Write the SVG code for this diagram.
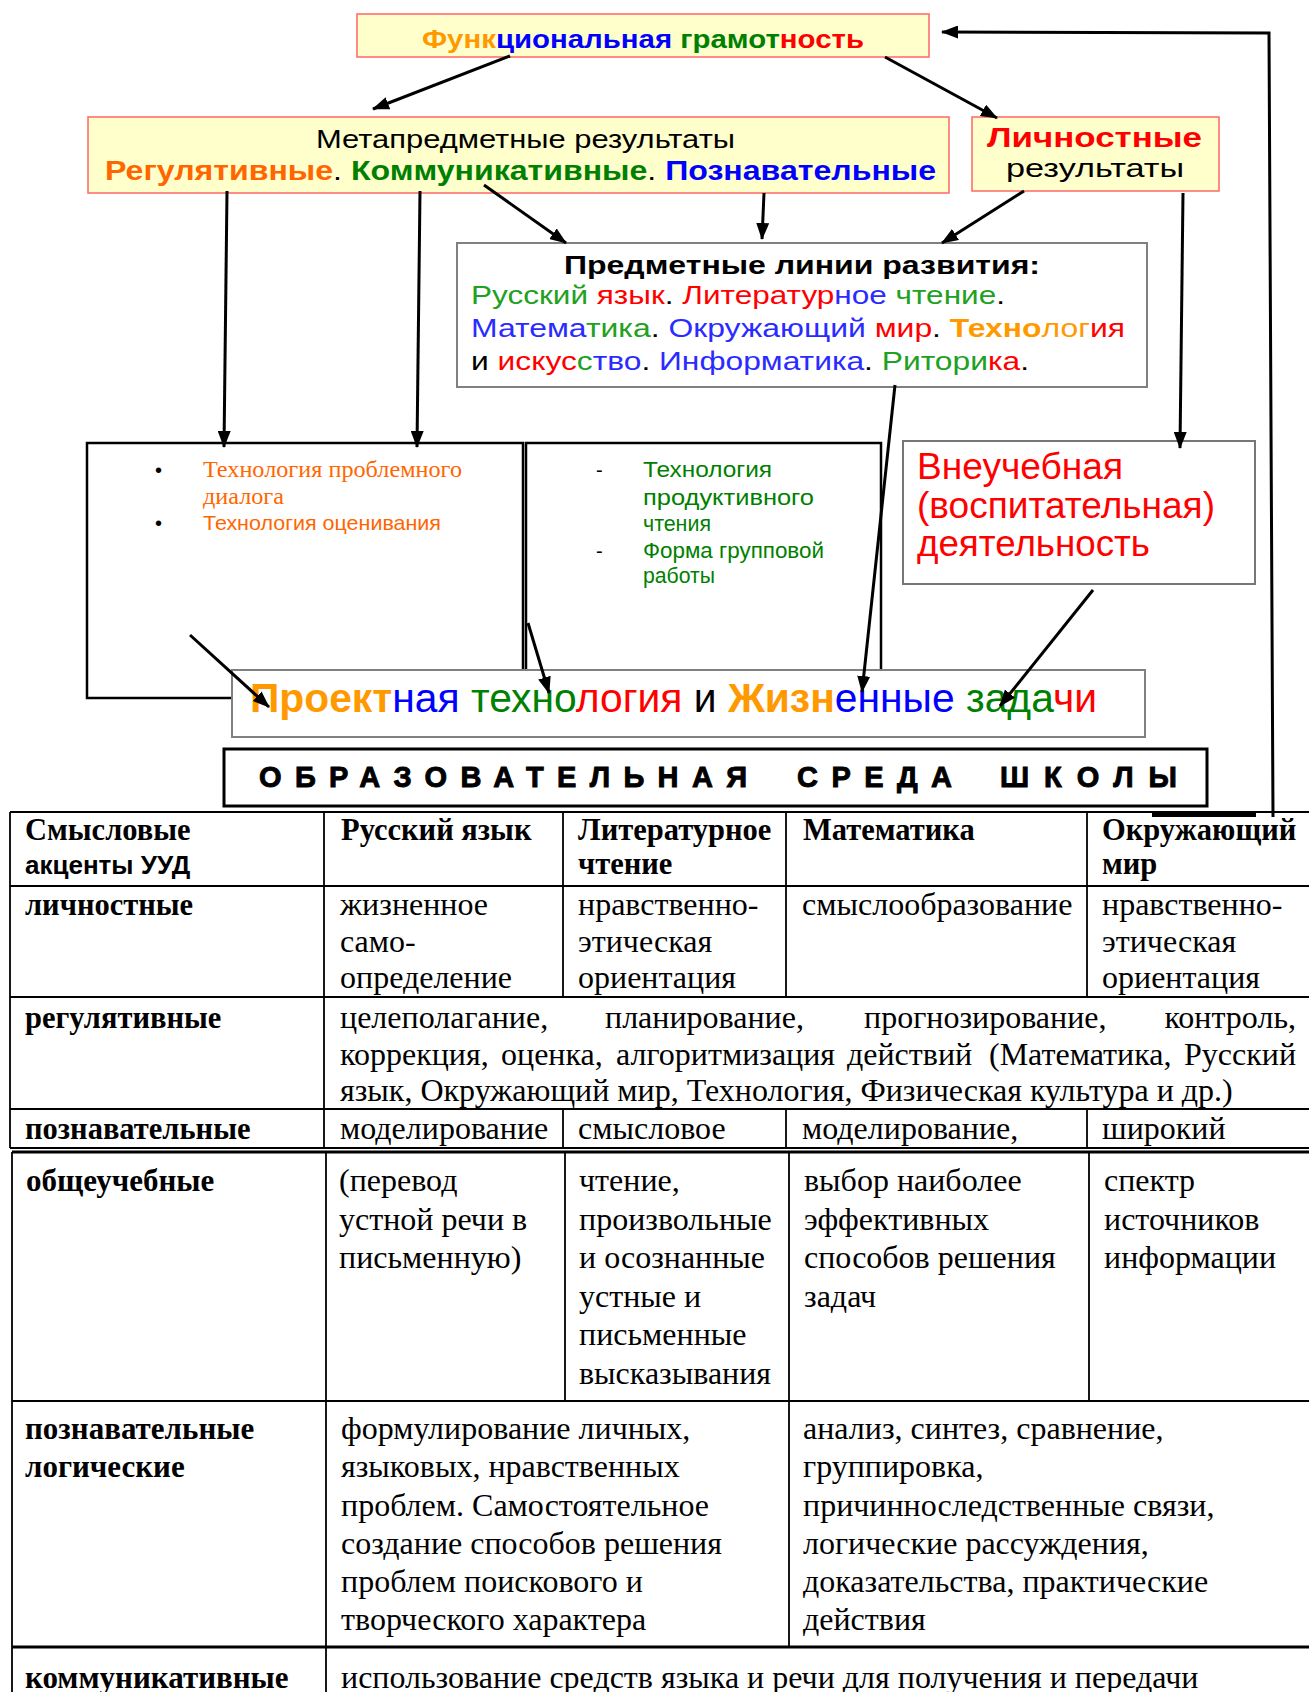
<svg xmlns="http://www.w3.org/2000/svg" width="1309" height="1692" viewBox="0 0 1309 1692">
<style>
.sans{font-family:"Liberation Sans",Arial,sans-serif}
.serif{font-family:"Liberation Serif","Times New Roman",serif}
.b{font-weight:bold}
.yb{fill:#ffffcc;stroke:#ff6f6f;stroke-width:1.6}
.gb{fill:#ffffff;stroke:#808080;stroke-width:2}
.kb{fill:#ffffff;stroke:#000;stroke-width:2.5}
.cn{stroke:#000;stroke-width:3;fill:none}
.tl{stroke:#000;stroke-width:1.8;fill:none}
.tk{stroke:#000;stroke-width:3;fill:none}
.t1{font-family:"Liberation Serif","Times New Roman",serif;font-size:32px;fill:#000}
.t1.b{font-size:30.5px}
.t2{font-family:"Liberation Serif","Times New Roman",serif;font-size:32px;fill:#000}
.t2.b{font-size:31px}
.or{fill:#ff9900}.bl{fill:#0000ff}.gr{fill:#008000}.rd{fill:#ff0000}.k{fill:#000}
.lg{fill:#22a022}.lb{fill:#2b2bff}.oo{fill:#ff6600}
</style>
<defs>
<marker id="ah" markerWidth="17" markerHeight="13" refX="16" refY="6.5" orient="auto" markerUnits="userSpaceOnUse">
<path d="M0,0 L17,6.5 L0,13 z" fill="#000"/>
</marker>
</defs>

<g id="node-func">
<rect class="yb" x="357" y="14" width="572" height="43"/>
<text class="sans b" x="422" y="48" font-size="26" textLength="442" lengthAdjust="spacingAndGlyphs"><tspan class="or">Функ</tspan><tspan class="bl">циональная</tspan> <tspan class="gr">грамот</tspan><tspan class="rd">ность</tspan></text>
</g>

<g id="node-meta">
<rect class="yb" x="88" y="117" width="861" height="76"/>
<text class="sans" x="316" y="148" font-size="25" fill="#000" textLength="419" lengthAdjust="spacingAndGlyphs">Метапредметные результаты</text>
<text class="sans b" x="105" y="180" font-size="27" textLength="831" lengthAdjust="spacingAndGlyphs"><tspan class="oo">Регулятивные</tspan><tspan class="k" font-weight="normal">. </tspan><tspan class="gr">Коммуникативные</tspan><tspan class="k" font-weight="normal">. </tspan><tspan class="bl">Познавательные</tspan></text>
</g>

<g id="node-lich">
<rect class="yb" x="972" y="117" width="247" height="74"/>
<text class="sans b rd" x="987" y="147" font-size="27" textLength="215" lengthAdjust="spacingAndGlyphs">Личностные</text>
<text class="sans" x="1006" y="177" font-size="25" fill="#000" textLength="178" lengthAdjust="spacingAndGlyphs">результаты</text>
</g>

<g id="node-predmet">
<rect class="gb" x="457" y="243" width="690" height="144"/>
<text class="sans b" x="564" y="274" font-size="25" fill="#000" textLength="476" lengthAdjust="spacingAndGlyphs">Предметные линии развития:</text>
<text class="sans" x="471" y="304" font-size="25" textLength="534" lengthAdjust="spacingAndGlyphs"><tspan class="lg">Русский</tspan> <tspan class="rd">язык</tspan><tspan class="k">. </tspan><tspan class="rd">Литератур</tspan><tspan class="lb">ное</tspan> <tspan class="lg">чтение</tspan><tspan class="k">.</tspan></text>
<text class="sans" x="471" y="337" font-size="25" textLength="654" lengthAdjust="spacingAndGlyphs"><tspan class="lb">Матема</tspan><tspan class="lg">тика</tspan><tspan class="k">. </tspan><tspan class="lb">Окружающий</tspan> <tspan class="rd">мир</tspan><tspan class="k">. </tspan><tspan class="or" font-weight="bold">Техно</tspan><tspan class="or">лог</tspan><tspan class="rd">ия</tspan></text>
<text class="sans" x="471" y="370" font-size="25" textLength="558" lengthAdjust="spacingAndGlyphs"><tspan class="k">и </tspan><tspan class="rd">искус</tspan><tspan class="lg">с</tspan><tspan class="lb">тво</tspan><tspan class="k">. </tspan><tspan class="lb">Информатика</tspan><tspan class="k">. </tspan><tspan class="lg">Ритори</tspan><tspan class="rd">ка</tspan><tspan class="k">.</tspan></text>
</g>

<g id="node-left">
<rect class="kb" x="87" y="443" width="436" height="255"/>
<text class="sans" x="155" y="477" font-size="20" fill="#000">•</text>
<text class="serif oo" x="203" y="477" font-size="23" textLength="259" lengthAdjust="spacingAndGlyphs">Технология проблемного</text>
<text class="serif oo" x="203" y="504" font-size="23" textLength="81" lengthAdjust="spacingAndGlyphs">диалога</text>
<text class="sans" x="155" y="530" font-size="20" fill="#000">•</text>
<text class="sans oo" x="203" y="530" font-size="21" textLength="238" lengthAdjust="spacingAndGlyphs">Технология оценивания</text>
</g>

<g id="node-middle">
<rect class="kb" x="526" y="443" width="355" height="245"/>
<text class="sans" x="596" y="477" font-size="20" fill="#000">-</text>
<text class="sans gr" x="643" y="477" font-size="22" textLength="129" lengthAdjust="spacingAndGlyphs">Технология</text>
<text class="sans gr" x="643" y="505" font-size="22" textLength="171" lengthAdjust="spacingAndGlyphs">продуктивного</text>
<text class="sans gr" x="643" y="531" font-size="22" textLength="68" lengthAdjust="spacingAndGlyphs">чтения</text>
<text class="sans" x="596" y="558" font-size="20" fill="#000">-</text>
<text class="sans gr" x="643" y="558" font-size="22" textLength="181" lengthAdjust="spacingAndGlyphs">Форма  групповой</text>
<text class="sans gr" x="643" y="583" font-size="22" textLength="72" lengthAdjust="spacingAndGlyphs">работы</text>
</g>

<g id="node-vneuch">
<rect x="903" y="441" width="352" height="143" fill="#fff" stroke="#777" stroke-width="2"/>
<text class="sans rd" x="917" y="479" font-size="36" textLength="206" lengthAdjust="spacingAndGlyphs">Внеучебная</text>
<text class="sans rd" x="917" y="518" font-size="36" textLength="298" lengthAdjust="spacingAndGlyphs">(воспитательная)</text>
<text class="sans rd" x="917" y="556" font-size="36" textLength="233" lengthAdjust="spacingAndGlyphs">деятельность</text>
</g>

<g id="node-proekt">
<rect class="gb" x="232" y="670" width="913" height="67"/>
<text class="sans" x="250" y="712" font-size="41" textLength="847" lengthAdjust="spacingAndGlyphs"><tspan class="or" font-weight="bold">Проект</tspan><tspan class="bl">ная</tspan> <tspan class="gr">техно</tspan><tspan class="rd">логия</tspan><tspan class="k"> и </tspan><tspan class="or" font-weight="bold">Жизн</tspan><tspan class="bl">енные</tspan> <tspan class="gr">зада</tspan><tspan class="rd">чи</tspan></text>
</g>

<g id="node-sreda">
<rect x="224" y="749" width="983" height="57" fill="#fff" stroke="#000" stroke-width="3"/>
<text class="sans b" x="259" y="787" font-size="29" fill="#000" stroke="#000" stroke-width="0.9" textLength="488" lengthAdjust="spacing">ОБРАЗОВАТЕЛЬНАЯ</text>
<text class="sans b" x="797" y="787" font-size="29" fill="#000" stroke="#000" stroke-width="0.9" textLength="155" lengthAdjust="spacing">СРЕДА</text>
<text class="sans b" x="1000" y="787" font-size="29" fill="#000" stroke="#000" stroke-width="0.9" textLength="177" lengthAdjust="spacing">ШКОЛЫ</text>
</g>

<g id="connectors">
<line class="cn" x1="510" y1="56" x2="373" y2="109" marker-end="url(#ah)"/>
<line class="cn" x1="885" y1="57" x2="997" y2="118" marker-end="url(#ah)"/>
<polyline class="cn" points="1273,817 1269,33 942,32" marker-end="url(#ah)"/>
<line x1="1152" y1="815" x2="1256" y2="815" stroke="#000" stroke-width="4"/>
<line class="cn" x1="227" y1="191" x2="224" y2="447" marker-end="url(#ah)"/>
<line class="cn" x1="420" y1="191" x2="417" y2="447" marker-end="url(#ah)"/>
<line class="cn" x1="484" y1="185" x2="566" y2="243" marker-end="url(#ah)"/>
<line class="cn" x1="764" y1="193" x2="762" y2="239" marker-end="url(#ah)"/>
<line class="cn" x1="1024" y1="191" x2="942" y2="243" marker-end="url(#ah)"/>
<line class="cn" x1="1183" y1="193" x2="1180" y2="448" marker-end="url(#ah)"/>
<line class="cn" x1="895" y1="385" x2="862" y2="692" marker-end="url(#ah)"/>
<line class="cn" x1="190" y1="635" x2="269" y2="707" marker-end="url(#ah)"/>
<line class="cn" x1="528" y1="623" x2="549" y2="693" marker-end="url(#ah)"/>
<line class="cn" x1="1093" y1="590" x2="1000" y2="706" marker-end="url(#ah)"/>
</g>

<g id="table1">
<path class="tl" d="M10,812 H1309 M10,886 H1309 M10,997 H1309 M10,1109 H1309 M10,1148 H1309 M10,812 V1148 M324,812 V1148 M563,812 V997 M563,1109 V1148 M786,812 V997 M786,1109 V1148 M1087,812 V997 M1087,1109 V1148"/>
<text class="t1 b" x="25" y="840">Смысловые</text>
<text class="sans b" x="25" y="874" font-size="26" fill="#000">акценты УУД</text>
<text class="t1 b" x="341" y="840">Русский язык</text>
<text class="t1 b" x="578" y="840">Литературное</text>
<text class="t1 b" x="578" y="874">чтение</text>
<text class="t1 b" x="803" y="840">Математика</text>
<text class="t1 b" x="1102" y="840">Окружающий</text>
<text class="t1 b" x="1102" y="874">мир</text>

<text class="t1 b" x="25" y="915">личностные</text>
<text class="t1" x="340" y="915">жизненное</text>
<text class="t1" x="340" y="952">само-</text>
<text class="t1" x="340" y="988">определение</text>
<text class="t1" x="578" y="915">нравственно-</text>
<text class="t1" x="578" y="952">этическая</text>
<text class="t1" x="578" y="988">ориентация</text>
<text class="t1" x="802" y="915">смыслообразование</text>
<text class="t1" x="1102" y="915">нравственно-</text>
<text class="t1" x="1102" y="952">этическая</text>
<text class="t1" x="1102" y="988">ориентация</text>

<text class="t1 b" x="25" y="1028">регулятивные</text>
<text class="t1" x="340" y="1028">целеполагание,</text>
<text class="t1" x="605" y="1028">планирование,</text>
<text class="t1" x="864" y="1028">прогнозирование,</text>
<text class="t1" x="1296" y="1028" text-anchor="end">контроль,</text>
<text class="t1" x="340" y="1065">коррекция,</text>
<text class="t1" x="501" y="1065">оценка,</text>
<text class="t1" x="616" y="1065">алгоритмизация</text>
<text class="t1" x="847" y="1065">действий</text>
<text class="t1" x="989" y="1065">(Математика,</text>
<text class="t1" x="1296" y="1065" text-anchor="end">Русский</text>
<text class="t1" x="340" y="1101">язык, Окружающий мир, Технология, Физическая культура и др.)</text>

<text class="t1 b" x="25" y="1139">познавательные</text>
<text class="t1" x="340" y="1139">моделирование</text>
<text class="t1" x="578" y="1139">смысловое</text>
<text class="t1" x="802" y="1139">моделирование,</text>
<text class="t1" x="1102" y="1139">широкий</text>
</g>

<g id="table2">
<path class="tk" d="M12,1152 H1309"/>
<path class="tl" d="M12,1152 V1692 M326,1152 V1692 M565,1152 V1401 M789,1152 V1647 M1089,1152 V1401 M12,1401 H1309"/>
<path class="tk" d="M12,1647 H1309"/>
<text class="t2 b" x="26" y="1191">общеучебные</text>
<text class="t2" x="339" y="1191">(перевод</text>
<text class="t2" x="339" y="1229.5">устной речи в</text>
<text class="t2" x="339" y="1268">письменную)</text>
<text class="t2" x="579" y="1191">чтение,</text>
<text class="t2" x="579" y="1229.5">произвольные</text>
<text class="t2" x="579" y="1268">и осознанные</text>
<text class="t2" x="579" y="1306.5">устные и</text>
<text class="t2" x="579" y="1345">письменные</text>
<text class="t2" x="579" y="1383.5">высказывания</text>
<text class="t2" x="804" y="1191">выбор наиболее</text>
<text class="t2" x="804" y="1229.5">эффективных</text>
<text class="t2" x="804" y="1268">способов решения</text>
<text class="t2" x="804" y="1306.5">задач</text>
<text class="t2" x="1104" y="1191">спектр</text>
<text class="t2" x="1104" y="1229.5">источников</text>
<text class="t2" x="1104" y="1268">информации</text>

<text class="t2 b" x="25" y="1439">познавательные</text>
<text class="t2 b" x="25" y="1477">логические</text>
<text class="t2" x="341" y="1439">формулирование личных,</text>
<text class="t2" x="341" y="1477">языковых, нравственных</text>
<text class="t2" x="341" y="1515.5">проблем. Самостоятельное</text>
<text class="t2" x="341" y="1554">создание способов решения</text>
<text class="t2" x="341" y="1592">проблем поискового и</text>
<text class="t2" x="341" y="1630">творческого характера</text>
<text class="t2" x="803" y="1439">анализ, синтез, сравнение,</text>
<text class="t2" x="803" y="1477">группировка,</text>
<text class="t2" x="803" y="1515.5">причинноследственные связи,</text>
<text class="t2" x="803" y="1554">логические рассуждения,</text>
<text class="t2" x="803" y="1592">доказательства, практические</text>
<text class="t2" x="803" y="1630">действия</text>

<text class="t2 b" x="25" y="1688">коммуникативные</text>
<text class="t2" x="341" y="1688">использование средств языка и речи для получения и передачи</text>
</g>
</svg>
